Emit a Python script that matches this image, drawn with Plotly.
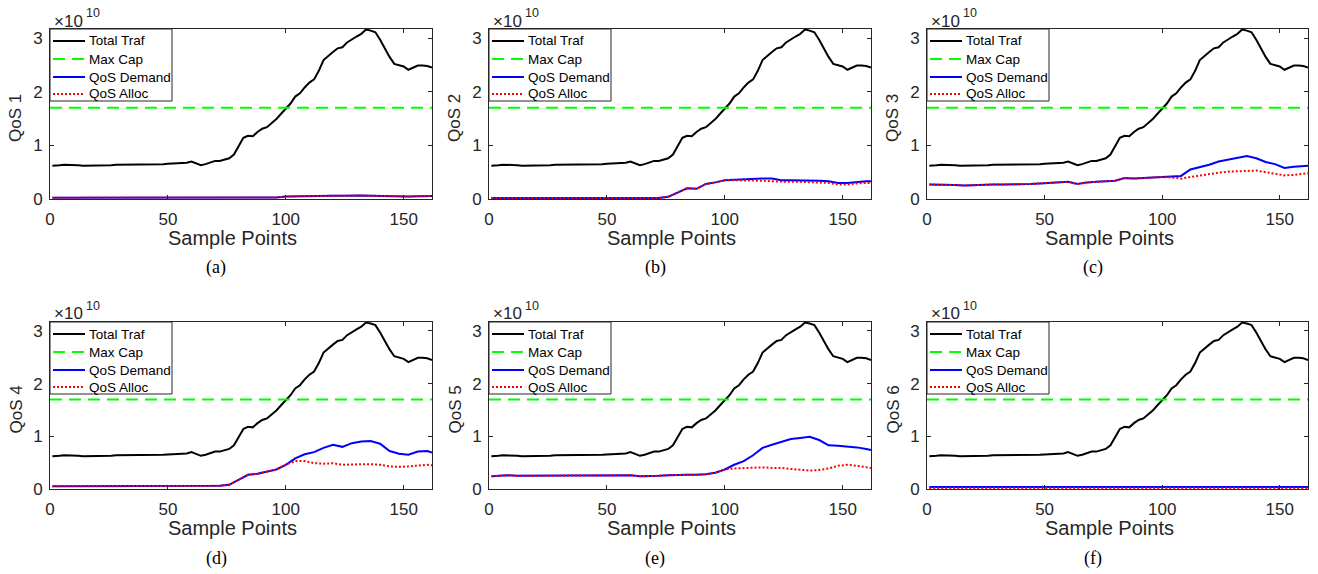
import plotly.graph_objects as go

# ---------------- data (values in units of 1e10) ----------------
SCALE = 1e10
X_TOTAL = [1] + list(range(2, 163, 2))
TOTAL = [0.62, 0.62, 0.63, 0.64, 0.64, 0.64, 0.63, 0.62, 0.62, 0.62,
         0.625, 0.63, 0.63, 0.63, 0.64, 0.64, 0.64, 0.645, 0.64, 0.64,
         0.64, 0.645, 0.645, 0.645, 0.65, 0.655, 0.66, 0.665, 0.67, 0.675,
         0.70, 0.66, 0.63, 0.65, 0.68, 0.71, 0.71, 0.73, 0.76, 0.83,
         0.98, 1.14, 1.18, 1.17, 1.25, 1.31, 1.34, 1.42, 1.49, 1.59,
         1.69, 1.78, 1.91, 1.97, 2.08, 2.17, 2.23, 2.39, 2.59, 2.67,
         2.74, 2.81, 2.83, 2.92, 2.98, 3.03, 3.08, 3.16, 3.14, 3.11,
         2.97, 2.80, 2.65, 2.52, 2.50, 2.47, 2.41, 2.45, 2.49, 2.49,
         2.48, 2.45]
MAX_CAP = 1.7

X_QOS = [1] + list(range(4, 161, 4)) + [162]

DEMAND_1 = [0.025, 0.025, 0.025, 0.025, 0.025, 0.025, 0.025, 0.025, 0.025, 0.025,
            0.025, 0.025, 0.025, 0.025, 0.025, 0.025, 0.025, 0.025, 0.025, 0.025,
            0.025, 0.025, 0.025, 0.025, 0.03, 0.045, 0.05, 0.055, 0.06, 0.06,
            0.06, 0.06, 0.065, 0.065, 0.06, 0.055, 0.05, 0.045, 0.045, 0.05,
            0.055, 0.055]
ALLOC_1 = [0.025, 0.025, 0.025, 0.025, 0.025, 0.025, 0.025, 0.025, 0.025, 0.025,
           0.025, 0.025, 0.025, 0.025, 0.025, 0.025, 0.025, 0.025, 0.025, 0.025,
           0.025, 0.025, 0.025, 0.025, 0.03, 0.045, 0.05, 0.055, 0.06, 0.06,
           0.06, 0.06, 0.065, 0.065, 0.06, 0.055, 0.05, 0.045, 0.045, 0.05,
           0.055, 0.055]

DEMAND_2 = [0.02, 0.02, 0.02, 0.02, 0.02, 0.02, 0.02, 0.02, 0.02, 0.02,
            0.02, 0.02, 0.02, 0.02, 0.02, 0.02, 0.02, 0.02, 0.02, 0.04,
            0.12, 0.20, 0.19, 0.28, 0.31, 0.35, 0.36, 0.37, 0.37, 0.38,
            0.38, 0.35, 0.35, 0.35, 0.35, 0.34, 0.33, 0.30, 0.30, 0.32,
            0.33, 0.33]
ALLOC_2 = [0.02, 0.02, 0.02, 0.02, 0.02, 0.02, 0.02, 0.02, 0.02, 0.02,
           0.02, 0.02, 0.02, 0.02, 0.02, 0.02, 0.02, 0.02, 0.02, 0.04,
           0.12, 0.20, 0.19, 0.28, 0.31, 0.35, 0.35, 0.35, 0.34, 0.34,
           0.33, 0.32, 0.32, 0.32, 0.31, 0.31, 0.30, 0.27, 0.27, 0.29,
           0.30, 0.30]

DEMAND_3 = [0.27, 0.27, 0.27, 0.26, 0.25, 0.26, 0.26, 0.27, 0.27, 0.27,
            0.27, 0.28, 0.29, 0.30, 0.30, 0.32, 0.28, 0.31, 0.32, 0.33,
            0.34, 0.39, 0.38, 0.39, 0.40, 0.41, 0.42, 0.43, 0.55, 0.59,
            0.64, 0.70, 0.73, 0.76, 0.80, 0.76, 0.69, 0.65, 0.58, 0.60,
            0.62, 0.62]
ALLOC_3 = [0.27, 0.27, 0.27, 0.26, 0.25, 0.26, 0.26, 0.27, 0.27, 0.27,
           0.27, 0.28, 0.29, 0.30, 0.30, 0.32, 0.28, 0.31, 0.32, 0.33,
           0.34, 0.39, 0.38, 0.39, 0.40, 0.41, 0.40, 0.38, 0.41, 0.44,
           0.47, 0.49, 0.51, 0.52, 0.53, 0.53, 0.50, 0.47, 0.44, 0.45,
           0.47, 0.48]

DEMAND_4 = [0.05, 0.05, 0.05, 0.05, 0.05, 0.05, 0.05, 0.05, 0.05, 0.05,
            0.05, 0.05, 0.05, 0.05, 0.05, 0.05, 0.05, 0.05, 0.06, 0.08,
            0.17, 0.27, 0.29, 0.33, 0.37, 0.46, 0.58, 0.66, 0.70, 0.78,
            0.84, 0.80, 0.87, 0.90, 0.91, 0.86, 0.72, 0.67, 0.65, 0.71,
            0.72, 0.69]
ALLOC_4 = [0.05, 0.05, 0.05, 0.05, 0.05, 0.05, 0.05, 0.05, 0.05, 0.05,
           0.05, 0.05, 0.05, 0.05, 0.05, 0.05, 0.05, 0.05, 0.06, 0.08,
           0.17, 0.27, 0.29, 0.33, 0.37, 0.46, 0.53, 0.53, 0.49, 0.48,
           0.49, 0.46, 0.47, 0.47, 0.47, 0.46, 0.43, 0.42, 0.43, 0.45,
           0.46, 0.45]

DEMAND_5 = [0.24, 0.25, 0.26, 0.25, 0.25, 0.25, 0.25, 0.25, 0.26, 0.25,
            0.25, 0.25, 0.25, 0.25, 0.26, 0.26, 0.24, 0.24, 0.25, 0.26,
            0.27, 0.27, 0.27, 0.28, 0.31, 0.37, 0.46, 0.53, 0.64, 0.78,
            0.84, 0.90, 0.95, 0.97, 0.99, 0.93, 0.83, 0.82, 0.81, 0.79,
            0.76, 0.74]
ALLOC_5 = [0.24, 0.25, 0.26, 0.25, 0.25, 0.25, 0.25, 0.25, 0.26, 0.25,
           0.25, 0.25, 0.25, 0.25, 0.26, 0.26, 0.24, 0.24, 0.25, 0.26,
           0.27, 0.27, 0.27, 0.28, 0.31, 0.37, 0.39, 0.40, 0.41, 0.41,
           0.40, 0.40, 0.38, 0.37, 0.35, 0.36, 0.39, 0.44, 0.46, 0.44,
           0.41, 0.40]

DEMAND_6 = [0.04, 0.04, 0.04, 0.04, 0.04, 0.04, 0.04, 0.04, 0.04, 0.04,
            0.04, 0.04, 0.04, 0.04, 0.04, 0.04, 0.04, 0.04, 0.04, 0.04,
            0.04, 0.04, 0.045, 0.045, 0.045, 0.045, 0.045, 0.045, 0.04, 0.04,
            0.04, 0.04, 0.04, 0.04, 0.04, 0.04, 0.04, 0.04, 0.04, 0.04,
            0.04, 0.04]
ALLOC_6 = [0.02, 0.02, 0.02, 0.02, 0.02, 0.02, 0.02, 0.02, 0.02, 0.02,
           0.02, 0.02, 0.02, 0.02, 0.02, 0.02, 0.02, 0.02, 0.02, 0.02,
           0.02, 0.025, 0.025, 0.03, 0.03, 0.03, 0.03, 0.025, 0.025, 0.02,
           0.02, 0.02, 0.02, 0.02, 0.015, 0.015, 0.015, 0.015, 0.015, 0.015,
           0.015, 0.015]

PANEL_TITLES = ["QoS 1", "QoS 2", "QoS 3", "QoS 4", "QoS 5", "QoS 6"]
CAPTIONS = ["(a)", "(b)", "(c)", "(d)", "(e)", "(f)"]
DEMANDS = [DEMAND_1, DEMAND_2, DEMAND_3, DEMAND_4, DEMAND_5, DEMAND_6]
ALLOCS = [ALLOC_1, ALLOC_2, ALLOC_3, ALLOC_4, ALLOC_5, ALLOC_6]
SERIES_NAMES = ["Total Traf", "Max Cap", "QoS Demand", "QoS Alloc"]
X_TICKS = [0, 50, 100, 150]
Y_TICKS = [0, 1, 2, 3]

# ---------------- styles / geometry (window pixels) ----------------
W, H = 1318, 574
COLS = [(50, 432), (489, 871), (927, 1308)]
ROWS = [(29, 199), (322, 489)]
X_MAX = 162
Y_MAX = 3.17

STYLES = [dict(color="black", width=2, dash="solid"),
          dict(color="#00ff00", width=2, dash="12px,7px"),
          dict(color="#0000ff", width=2, dash="solid"),
          dict(color="#ff0000", width=2, dash="2px,2px")]

LEG_W, LEG_H = 122, 72
LEG_ROWS = [12, 30, 48, 65]
LEG_LINE = (3, 35)
LEG_TEXT = 37


def px(x):
    return x / W


def py(y):
    return 1 - y / H


FONT = "Liberation Sans, Arial, sans-serif"
AX_COLOR = "#262626"

fig = go.Figure()
annotations = []
shapes = []
layout = dict(
    template="none",
    width=W, height=H,
    margin=dict(l=0, r=0, t=0, b=0, autoexpand=False),
    paper_bgcolor="white", plot_bgcolor="white",
    showlegend=False,
)

for i in range(6):
    r, c = divmod(i, 3)
    (x0, x1), (y0, y1) = COLS[c], ROWS[r]
    sfx = "" if i == 0 else str(i + 1)
    xa, ya = "x" + sfx, "y" + sfx
    series = [
        (X_TOTAL, TOTAL),
        ([0, X_MAX], [MAX_CAP, MAX_CAP]),
        (X_QOS, DEMANDS[i]),
        (X_QOS, ALLOCS[i]),
    ]
    for (xs, ys), name, st in zip(series, SERIES_NAMES, STYLES):
        fig.add_trace(go.Scatter(x=xs, y=[v * SCALE for v in ys], mode="lines", name=name,
                                 line=st, xaxis=xa, yaxis=ya))

    layout["xaxis" + sfx] = dict(
        domain=[px(x0), px(x1)], anchor=ya, range=[0, X_MAX], automargin=False,
        tickvals=X_TICKS, ticks="inside", ticklen=4, tickcolor=AX_COLOR,
        mirror="allticks", showline=True, linecolor=AX_COLOR, linewidth=1,
        showgrid=False, zeroline=False, ticklabelstandoff=5,
        tickfont=dict(family=FONT, size=17, color=AX_COLOR),
    )
    layout["yaxis" + sfx] = dict(
        domain=[py(y1), py(y0)], anchor=xa, range=[0, Y_MAX * SCALE], automargin=False,
        tickvals=[t * SCALE for t in Y_TICKS], ticktext=[str(t) for t in Y_TICKS],
        ticks="inside", ticklen=4, tickcolor=AX_COLOR,
        mirror="allticks", showline=True, linecolor=AX_COLOR, linewidth=1,
        showgrid=False, zeroline=False, ticklabelstandoff=3,
        tickfont=dict(family=FONT, size=17, color=AX_COLOR),
    )

    # legend box (one per panel, upper-left inside the axes)
    shapes.append(dict(type="rect", xref="paper", yref="paper",
                       x0=px(x0), x1=px(x0 + LEG_W), y0=py(y0), y1=py(y0 + LEG_H),
                       line=dict(color=AX_COLOR, width=1), fillcolor="white", layer="above"))
    for name, st, ry in zip(SERIES_NAMES, STYLES, LEG_ROWS):
        shapes.append(dict(type="line", xref="paper", yref="paper",
                           x0=px(x0 + LEG_LINE[0]), x1=px(x0 + LEG_LINE[1]),
                           y0=py(y0 + ry), y1=py(y0 + ry),
                           line=dict(color=st["color"], width=st["width"], dash=st["dash"]),
                           layer="above"))
        annotations.append(dict(text=name, x=px(x0 + LEG_TEXT), y=py(y0 + ry),
                                xref="paper", yref="paper", xanchor="left", yanchor="middle",
                                showarrow=False, font=dict(family=FONT, size=13.5, color="black")))

    # x10^10 exponent label
    annotations.append(dict(text="\u00d710", x=px(x0 + 2), y=py(y0 - 8),
                            xref="paper", yref="paper", xanchor="left", yanchor="middle",
                            showarrow=False, font=dict(family=FONT, size=17, color=AX_COLOR)))
    annotations.append(dict(text="10", x=px(x0 + 34), y=py(y0 - 16),
                            xref="paper", yref="paper", xanchor="left", yanchor="middle",
                            showarrow=False, font=dict(family=FONT, size=12.5, color=AX_COLOR)))
    # y title
    annotations.append(dict(text=PANEL_TITLES[i], x=px(x0 - 34), y=py((y0 + y1) / 2 + 4),
                            xref="paper", yref="paper", xanchor="center", yanchor="middle",
                            textangle=-90, showarrow=False,
                            font=dict(family=FONT, size=17, color=AX_COLOR)))
    # x title
    annotations.append(dict(text="Sample Points", x=px(x0 + 182), y=py(y1 + 39),
                            xref="paper", yref="paper", xanchor="center", yanchor="middle",
                            showarrow=False, font=dict(family=FONT, size=20, color=AX_COLOR)))
    # caption
    annotations.append(dict(text=CAPTIONS[i], x=px(x0 + 166), y=py(y1 + 69),
                            xref="paper", yref="paper", xanchor="center", yanchor="middle",
                            showarrow=False,
                            font=dict(family="Liberation Serif, Times New Roman, serif", size=18, color="black")))

layout["annotations"] = annotations
layout["shapes"] = shapes
fig.update_layout(**layout)
fig.write_html("out.html", config={"displayModeBar": False, "staticPlot": True},
               post_script="document.body.style.margin='0px';")
